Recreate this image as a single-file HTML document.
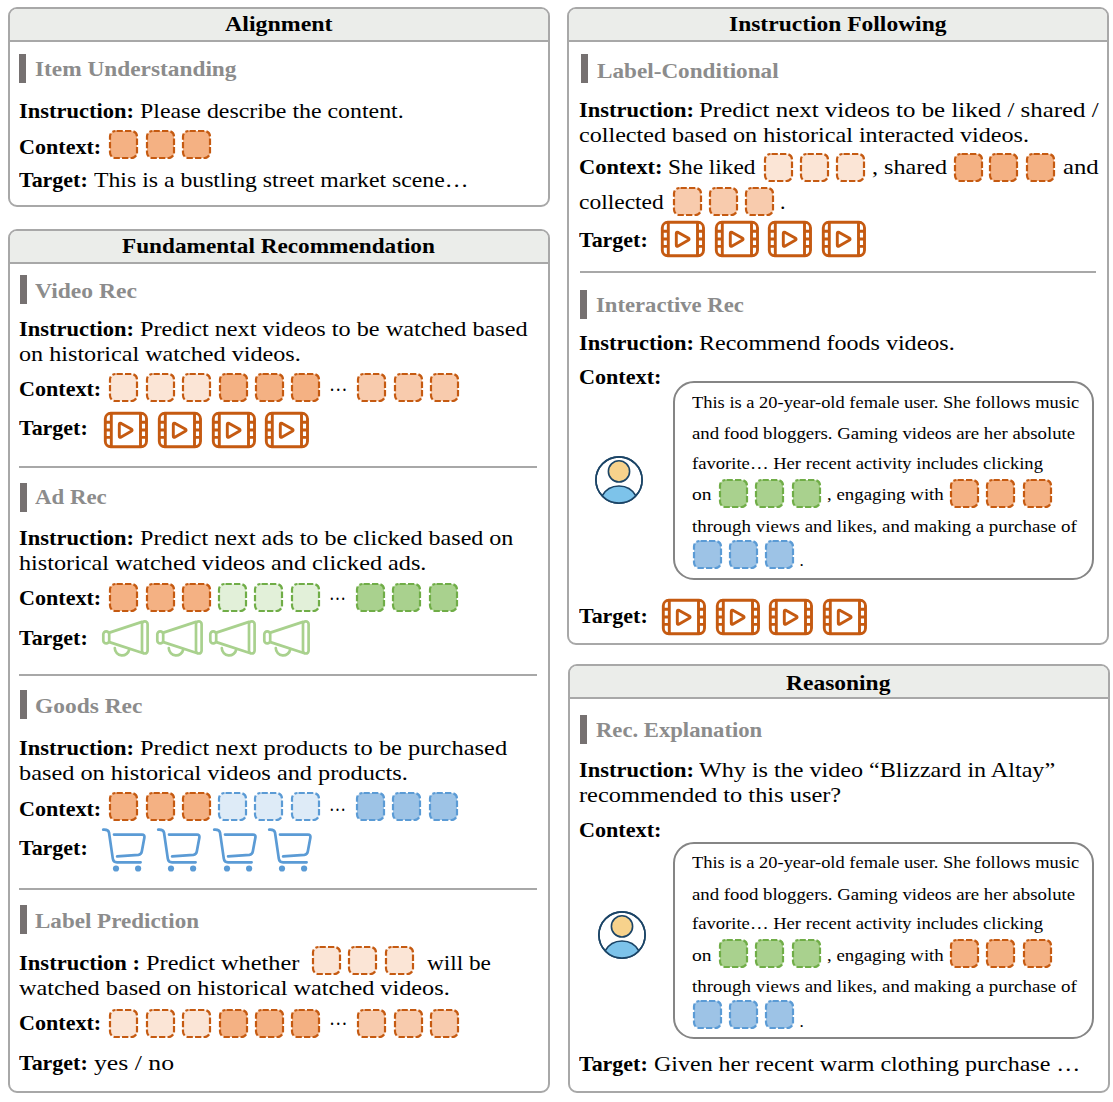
<!DOCTYPE html>
<html><head><meta charset="utf-8"><style>
html,body{margin:0;padding:0;background:#fff;}
body{width:1113px;height:1102px;position:relative;overflow:hidden;font-family:'Liberation Serif', serif;}
.t{position:absolute;white-space:pre;line-height:1;transform-origin:0 0;color:#000;}
.s{position:absolute;overflow:visible;}
.p{position:absolute;box-sizing:border-box;border:2px solid #a8a8a8;border-radius:9px;background:#fff;overflow:hidden;}
.ph{background:#ebedea;border-bottom:2px solid #a8a8a8;}
.bar{position:absolute;width:7px;height:29px;background:#767171;}
.sep{position:absolute;height:2px;background:#a8a8a8;}
.ib{position:absolute;box-sizing:border-box;border:2px solid #858585;border-radius:21px;}
</style></head><body>
<div class="p" style="left:8px;top:7px;width:542px;height:200px"><div class="ph" style="height:31px"></div></div>
<div class="p" style="left:8px;top:229px;width:542px;height:864px"><div class="ph" style="height:31px"></div></div>
<div class="p" style="left:567px;top:7px;width:542px;height:638px"><div class="ph" style="height:31px"></div></div>
<div class="p" style="left:568px;top:664px;width:542px;height:429px"><div class="ph" style="height:31px"></div></div>
<div class="bar" style="left:19px;top:54px"></div>
<svg class="s" style="left:109.1px;top:130.2px" width="29" height="29" viewBox="0 0 29 29"><rect x="1" y="1" width="27" height="27" rx="5.5" fill="#f4b183" stroke="#c55a11" stroke-width="2.2" stroke-dasharray="6.3 2.2" stroke-dashoffset="7.5"/></svg>
<svg class="s" style="left:145.5px;top:130.2px" width="29" height="29" viewBox="0 0 29 29"><rect x="1" y="1" width="27" height="27" rx="5.5" fill="#f4b183" stroke="#c55a11" stroke-width="2.2" stroke-dasharray="6.3 2.2" stroke-dashoffset="7.5"/></svg>
<svg class="s" style="left:182px;top:130.2px" width="29" height="29" viewBox="0 0 29 29"><rect x="1" y="1" width="27" height="27" rx="5.5" fill="#f4b183" stroke="#c55a11" stroke-width="2.2" stroke-dasharray="6.3 2.2" stroke-dashoffset="7.5"/></svg>
<div class="bar" style="left:20px;top:275px"></div>
<svg class="s" style="left:109.1px;top:372.5px" width="29" height="29" viewBox="0 0 29 29"><rect x="1" y="1" width="27" height="27" rx="5.5" fill="#fbe5d6" stroke="#c55a11" stroke-width="2.2" stroke-dasharray="6.3 2.2" stroke-dashoffset="7.5"/></svg>
<svg class="s" style="left:145.5px;top:372.5px" width="29" height="29" viewBox="0 0 29 29"><rect x="1" y="1" width="27" height="27" rx="5.5" fill="#fbe5d6" stroke="#c55a11" stroke-width="2.2" stroke-dasharray="6.3 2.2" stroke-dashoffset="7.5"/></svg>
<svg class="s" style="left:182px;top:372.5px" width="29" height="29" viewBox="0 0 29 29"><rect x="1" y="1" width="27" height="27" rx="5.5" fill="#fbe5d6" stroke="#c55a11" stroke-width="2.2" stroke-dasharray="6.3 2.2" stroke-dashoffset="7.5"/></svg>
<svg class="s" style="left:218.6px;top:372.5px" width="29" height="29" viewBox="0 0 29 29"><rect x="1" y="1" width="27" height="27" rx="5.5" fill="#f4b183" stroke="#c55a11" stroke-width="2.2" stroke-dasharray="6.3 2.2" stroke-dashoffset="7.5"/></svg>
<svg class="s" style="left:255px;top:372.5px" width="29" height="29" viewBox="0 0 29 29"><rect x="1" y="1" width="27" height="27" rx="5.5" fill="#f4b183" stroke="#c55a11" stroke-width="2.2" stroke-dasharray="6.3 2.2" stroke-dashoffset="7.5"/></svg>
<svg class="s" style="left:291.3px;top:372.5px" width="29" height="29" viewBox="0 0 29 29"><rect x="1" y="1" width="27" height="27" rx="5.5" fill="#f4b183" stroke="#c55a11" stroke-width="2.2" stroke-dasharray="6.3 2.2" stroke-dashoffset="7.5"/></svg>
<svg class="s" style="left:357.2px;top:372.5px" width="29" height="29" viewBox="0 0 29 29"><rect x="1" y="1" width="27" height="27" rx="5.5" fill="#f8cbad" stroke="#c55a11" stroke-width="2.2" stroke-dasharray="6.3 2.2" stroke-dashoffset="7.5"/></svg>
<svg class="s" style="left:393.5px;top:372.5px" width="29" height="29" viewBox="0 0 29 29"><rect x="1" y="1" width="27" height="27" rx="5.5" fill="#f8cbad" stroke="#c55a11" stroke-width="2.2" stroke-dasharray="6.3 2.2" stroke-dashoffset="7.5"/></svg>
<svg class="s" style="left:429.5px;top:372.5px" width="29" height="29" viewBox="0 0 29 29"><rect x="1" y="1" width="27" height="27" rx="5.5" fill="#f8cbad" stroke="#c55a11" stroke-width="2.2" stroke-dasharray="6.3 2.2" stroke-dashoffset="7.5"/></svg>
<svg class="s" style="left:104.2px;top:411.7px" width="44" height="37" viewBox="0 0 44 37"><g fill="none" stroke="#c55a11" stroke-width="2.9" stroke-linejoin="round"><rect x="1.3" y="1.3" width="41.2" height="33.5" rx="5.5"/><path d="M7.3 1.3V34.8M36.5 1.3V34.8M1.3 10.3H7.3M1.3 18H7.3M1.3 25.4H7.3M36.5 10.3H42.5M36.5 18H42.5M36.5 25.4H42.5"/><path d="M15.3 12.6Q15.3 10.4 17.2 11.4L27.2 17.1Q29 18.2 27.2 19.3L17.2 25Q15.3 26.1 15.3 23.9Z"/></g></svg>
<svg class="s" style="left:158px;top:411.7px" width="44" height="37" viewBox="0 0 44 37"><g fill="none" stroke="#c55a11" stroke-width="2.9" stroke-linejoin="round"><rect x="1.3" y="1.3" width="41.2" height="33.5" rx="5.5"/><path d="M7.3 1.3V34.8M36.5 1.3V34.8M1.3 10.3H7.3M1.3 18H7.3M1.3 25.4H7.3M36.5 10.3H42.5M36.5 18H42.5M36.5 25.4H42.5"/><path d="M15.3 12.6Q15.3 10.4 17.2 11.4L27.2 17.1Q29 18.2 27.2 19.3L17.2 25Q15.3 26.1 15.3 23.9Z"/></g></svg>
<svg class="s" style="left:211.7px;top:411.7px" width="44" height="37" viewBox="0 0 44 37"><g fill="none" stroke="#c55a11" stroke-width="2.9" stroke-linejoin="round"><rect x="1.3" y="1.3" width="41.2" height="33.5" rx="5.5"/><path d="M7.3 1.3V34.8M36.5 1.3V34.8M1.3 10.3H7.3M1.3 18H7.3M1.3 25.4H7.3M36.5 10.3H42.5M36.5 18H42.5M36.5 25.4H42.5"/><path d="M15.3 12.6Q15.3 10.4 17.2 11.4L27.2 17.1Q29 18.2 27.2 19.3L17.2 25Q15.3 26.1 15.3 23.9Z"/></g></svg>
<svg class="s" style="left:265.4px;top:411.7px" width="44" height="37" viewBox="0 0 44 37"><g fill="none" stroke="#c55a11" stroke-width="2.9" stroke-linejoin="round"><rect x="1.3" y="1.3" width="41.2" height="33.5" rx="5.5"/><path d="M7.3 1.3V34.8M36.5 1.3V34.8M1.3 10.3H7.3M1.3 18H7.3M1.3 25.4H7.3M36.5 10.3H42.5M36.5 18H42.5M36.5 25.4H42.5"/><path d="M15.3 12.6Q15.3 10.4 17.2 11.4L27.2 17.1Q29 18.2 27.2 19.3L17.2 25Q15.3 26.1 15.3 23.9Z"/></g></svg>
<div class="sep" style="left:18.6px;top:466px;width:518.4px"></div>
<div class="bar" style="left:20px;top:482.7px"></div>
<svg class="s" style="left:109.1px;top:583.1px" width="29" height="29" viewBox="0 0 29 29"><rect x="1" y="1" width="27" height="27" rx="5.5" fill="#f4b183" stroke="#c55a11" stroke-width="2.2" stroke-dasharray="6.3 2.2" stroke-dashoffset="7.5"/></svg>
<svg class="s" style="left:145.5px;top:583.1px" width="29" height="29" viewBox="0 0 29 29"><rect x="1" y="1" width="27" height="27" rx="5.5" fill="#f4b183" stroke="#c55a11" stroke-width="2.2" stroke-dasharray="6.3 2.2" stroke-dashoffset="7.5"/></svg>
<svg class="s" style="left:182px;top:583.1px" width="29" height="29" viewBox="0 0 29 29"><rect x="1" y="1" width="27" height="27" rx="5.5" fill="#f4b183" stroke="#c55a11" stroke-width="2.2" stroke-dasharray="6.3 2.2" stroke-dashoffset="7.5"/></svg>
<svg class="s" style="left:218.2px;top:583.1px" width="29" height="29" viewBox="0 0 29 29"><rect x="1" y="1" width="27" height="27" rx="5.5" fill="#e2f0d9" stroke="#70ad47" stroke-width="2.2" stroke-dasharray="6.3 2.2" stroke-dashoffset="7.5"/></svg>
<svg class="s" style="left:254.4px;top:583.1px" width="29" height="29" viewBox="0 0 29 29"><rect x="1" y="1" width="27" height="27" rx="5.5" fill="#e2f0d9" stroke="#70ad47" stroke-width="2.2" stroke-dasharray="6.3 2.2" stroke-dashoffset="7.5"/></svg>
<svg class="s" style="left:290.6px;top:583.1px" width="29" height="29" viewBox="0 0 29 29"><rect x="1" y="1" width="27" height="27" rx="5.5" fill="#e2f0d9" stroke="#70ad47" stroke-width="2.2" stroke-dasharray="6.3 2.2" stroke-dashoffset="7.5"/></svg>
<svg class="s" style="left:356px;top:583.1px" width="29" height="29" viewBox="0 0 29 29"><rect x="1" y="1" width="27" height="27" rx="5.5" fill="#a9d18e" stroke="#70ad47" stroke-width="2.2" stroke-dasharray="6.3 2.2" stroke-dashoffset="7.5"/></svg>
<svg class="s" style="left:392.2px;top:583.1px" width="29" height="29" viewBox="0 0 29 29"><rect x="1" y="1" width="27" height="27" rx="5.5" fill="#a9d18e" stroke="#70ad47" stroke-width="2.2" stroke-dasharray="6.3 2.2" stroke-dashoffset="7.5"/></svg>
<svg class="s" style="left:429px;top:583.1px" width="29" height="29" viewBox="0 0 29 29"><rect x="1" y="1" width="27" height="27" rx="5.5" fill="#a9d18e" stroke="#70ad47" stroke-width="2.2" stroke-dasharray="6.3 2.2" stroke-dashoffset="7.5"/></svg>
<svg class="s" style="left:98px;top:615px" width="54" height="47" viewBox="0 0 54 47"><g fill="none" stroke="#a9d18e" stroke-width="2.7" stroke-linecap="round" stroke-linejoin="round"><rect x="5.3" y="16.3" width="5.9" height="12" rx="2.9"/><rect x="44" y="6.4" width="5.6" height="32.1" rx="2.8"/><path d="M11.4 17.6L44 6.9M11.4 27.1L44 37.8"/><path d="M16.8 33.2A7.3 7.3 0 0 0 31.3 34.3"/></g></svg>
<svg class="s" style="left:151.6px;top:615px" width="54" height="47" viewBox="0 0 54 47"><g fill="none" stroke="#a9d18e" stroke-width="2.7" stroke-linecap="round" stroke-linejoin="round"><rect x="5.3" y="16.3" width="5.9" height="12" rx="2.9"/><rect x="44" y="6.4" width="5.6" height="32.1" rx="2.8"/><path d="M11.4 17.6L44 6.9M11.4 27.1L44 37.8"/><path d="M16.8 33.2A7.3 7.3 0 0 0 31.3 34.3"/></g></svg>
<svg class="s" style="left:205.1px;top:615px" width="54" height="47" viewBox="0 0 54 47"><g fill="none" stroke="#a9d18e" stroke-width="2.7" stroke-linecap="round" stroke-linejoin="round"><rect x="5.3" y="16.3" width="5.9" height="12" rx="2.9"/><rect x="44" y="6.4" width="5.6" height="32.1" rx="2.8"/><path d="M11.4 17.6L44 6.9M11.4 27.1L44 37.8"/><path d="M16.8 33.2A7.3 7.3 0 0 0 31.3 34.3"/></g></svg>
<svg class="s" style="left:258.7px;top:615px" width="54" height="47" viewBox="0 0 54 47"><g fill="none" stroke="#a9d18e" stroke-width="2.7" stroke-linecap="round" stroke-linejoin="round"><rect x="5.3" y="16.3" width="5.9" height="12" rx="2.9"/><rect x="44" y="6.4" width="5.6" height="32.1" rx="2.8"/><path d="M11.4 17.6L44 6.9M11.4 27.1L44 37.8"/><path d="M16.8 33.2A7.3 7.3 0 0 0 31.3 34.3"/></g></svg>
<div class="sep" style="left:18.6px;top:674px;width:518.4px"></div>
<div class="bar" style="left:20px;top:690px"></div>
<svg class="s" style="left:109.1px;top:792.3px" width="29" height="29" viewBox="0 0 29 29"><rect x="1" y="1" width="27" height="27" rx="5.5" fill="#f4b183" stroke="#c55a11" stroke-width="2.2" stroke-dasharray="6.3 2.2" stroke-dashoffset="7.5"/></svg>
<svg class="s" style="left:145.5px;top:792.3px" width="29" height="29" viewBox="0 0 29 29"><rect x="1" y="1" width="27" height="27" rx="5.5" fill="#f4b183" stroke="#c55a11" stroke-width="2.2" stroke-dasharray="6.3 2.2" stroke-dashoffset="7.5"/></svg>
<svg class="s" style="left:182px;top:792.3px" width="29" height="29" viewBox="0 0 29 29"><rect x="1" y="1" width="27" height="27" rx="5.5" fill="#f4b183" stroke="#c55a11" stroke-width="2.2" stroke-dasharray="6.3 2.2" stroke-dashoffset="7.5"/></svg>
<svg class="s" style="left:218.2px;top:792.3px" width="29" height="29" viewBox="0 0 29 29"><rect x="1" y="1" width="27" height="27" rx="5.5" fill="#deebf7" stroke="#5b9bd5" stroke-width="2.2" stroke-dasharray="6.3 2.2" stroke-dashoffset="7.5"/></svg>
<svg class="s" style="left:254.4px;top:792.3px" width="29" height="29" viewBox="0 0 29 29"><rect x="1" y="1" width="27" height="27" rx="5.5" fill="#deebf7" stroke="#5b9bd5" stroke-width="2.2" stroke-dasharray="6.3 2.2" stroke-dashoffset="7.5"/></svg>
<svg class="s" style="left:290.6px;top:792.3px" width="29" height="29" viewBox="0 0 29 29"><rect x="1" y="1" width="27" height="27" rx="5.5" fill="#deebf7" stroke="#5b9bd5" stroke-width="2.2" stroke-dasharray="6.3 2.2" stroke-dashoffset="7.5"/></svg>
<svg class="s" style="left:356px;top:792.3px" width="29" height="29" viewBox="0 0 29 29"><rect x="1" y="1" width="27" height="27" rx="5.5" fill="#9dc3e6" stroke="#5b9bd5" stroke-width="2.2" stroke-dasharray="6.3 2.2" stroke-dashoffset="7.5"/></svg>
<svg class="s" style="left:392.2px;top:792.3px" width="29" height="29" viewBox="0 0 29 29"><rect x="1" y="1" width="27" height="27" rx="5.5" fill="#9dc3e6" stroke="#5b9bd5" stroke-width="2.2" stroke-dasharray="6.3 2.2" stroke-dashoffset="7.5"/></svg>
<svg class="s" style="left:429px;top:792.3px" width="29" height="29" viewBox="0 0 29 29"><rect x="1" y="1" width="27" height="27" rx="5.5" fill="#9dc3e6" stroke="#5b9bd5" stroke-width="2.2" stroke-dasharray="6.3 2.2" stroke-dashoffset="7.5"/></svg>
<svg class="s" style="left:95px;top:820px" width="52" height="54" viewBox="0 0 52 54"><g fill="none" stroke="#5b9bd5" stroke-width="2.7" stroke-linecap="round" stroke-linejoin="round"><path d="M8.2 9.7Q13.3 9.3 14 12.5L17.8 38.6Q18.3 42.3 22 42.3H45.6"/><path d="M19 14.6H47Q49.9 14.6 49.4 17.4L46.8 31.6Q46.3 34.5 43.4 34.8L22.1 36.3"/></g><circle cx="21" cy="48.5" r="3.1" fill="#5b9bd5"/><circle cx="43.1" cy="48.5" r="3.1" fill="#5b9bd5"/></svg>
<svg class="s" style="left:150.4px;top:820px" width="52" height="54" viewBox="0 0 52 54"><g fill="none" stroke="#5b9bd5" stroke-width="2.7" stroke-linecap="round" stroke-linejoin="round"><path d="M8.2 9.7Q13.3 9.3 14 12.5L17.8 38.6Q18.3 42.3 22 42.3H45.6"/><path d="M19 14.6H47Q49.9 14.6 49.4 17.4L46.8 31.6Q46.3 34.5 43.4 34.8L22.1 36.3"/></g><circle cx="21" cy="48.5" r="3.1" fill="#5b9bd5"/><circle cx="43.1" cy="48.5" r="3.1" fill="#5b9bd5"/></svg>
<svg class="s" style="left:205.8px;top:820px" width="52" height="54" viewBox="0 0 52 54"><g fill="none" stroke="#5b9bd5" stroke-width="2.7" stroke-linecap="round" stroke-linejoin="round"><path d="M8.2 9.7Q13.3 9.3 14 12.5L17.8 38.6Q18.3 42.3 22 42.3H45.6"/><path d="M19 14.6H47Q49.9 14.6 49.4 17.4L46.8 31.6Q46.3 34.5 43.4 34.8L22.1 36.3"/></g><circle cx="21" cy="48.5" r="3.1" fill="#5b9bd5"/><circle cx="43.1" cy="48.5" r="3.1" fill="#5b9bd5"/></svg>
<svg class="s" style="left:261.2px;top:820px" width="52" height="54" viewBox="0 0 52 54"><g fill="none" stroke="#5b9bd5" stroke-width="2.7" stroke-linecap="round" stroke-linejoin="round"><path d="M8.2 9.7Q13.3 9.3 14 12.5L17.8 38.6Q18.3 42.3 22 42.3H45.6"/><path d="M19 14.6H47Q49.9 14.6 49.4 17.4L46.8 31.6Q46.3 34.5 43.4 34.8L22.1 36.3"/></g><circle cx="21" cy="48.5" r="3.1" fill="#5b9bd5"/><circle cx="43.1" cy="48.5" r="3.1" fill="#5b9bd5"/></svg>
<div class="sep" style="left:18.6px;top:888px;width:518.4px"></div>
<div class="bar" style="left:20px;top:905px"></div>
<svg class="s" style="left:312px;top:946.4px" width="29" height="29" viewBox="0 0 29 29"><rect x="1" y="1" width="27" height="27" rx="5.5" fill="#fbe5d6" stroke="#c55a11" stroke-width="2.2" stroke-dasharray="6.3 2.2" stroke-dashoffset="7.5"/></svg>
<svg class="s" style="left:348px;top:946.4px" width="29" height="29" viewBox="0 0 29 29"><rect x="1" y="1" width="27" height="27" rx="5.5" fill="#fbe5d6" stroke="#c55a11" stroke-width="2.2" stroke-dasharray="6.3 2.2" stroke-dashoffset="7.5"/></svg>
<svg class="s" style="left:385px;top:946.4px" width="29" height="29" viewBox="0 0 29 29"><rect x="1" y="1" width="27" height="27" rx="5.5" fill="#fbe5d6" stroke="#c55a11" stroke-width="2.2" stroke-dasharray="6.3 2.2" stroke-dashoffset="7.5"/></svg>
<svg class="s" style="left:109.1px;top:1008.5px" width="29" height="29" viewBox="0 0 29 29"><rect x="1" y="1" width="27" height="27" rx="5.5" fill="#fbe5d6" stroke="#c55a11" stroke-width="2.2" stroke-dasharray="6.3 2.2" stroke-dashoffset="7.5"/></svg>
<svg class="s" style="left:145.5px;top:1008.5px" width="29" height="29" viewBox="0 0 29 29"><rect x="1" y="1" width="27" height="27" rx="5.5" fill="#fbe5d6" stroke="#c55a11" stroke-width="2.2" stroke-dasharray="6.3 2.2" stroke-dashoffset="7.5"/></svg>
<svg class="s" style="left:182px;top:1008.5px" width="29" height="29" viewBox="0 0 29 29"><rect x="1" y="1" width="27" height="27" rx="5.5" fill="#fbe5d6" stroke="#c55a11" stroke-width="2.2" stroke-dasharray="6.3 2.2" stroke-dashoffset="7.5"/></svg>
<svg class="s" style="left:218.6px;top:1008.5px" width="29" height="29" viewBox="0 0 29 29"><rect x="1" y="1" width="27" height="27" rx="5.5" fill="#f4b183" stroke="#c55a11" stroke-width="2.2" stroke-dasharray="6.3 2.2" stroke-dashoffset="7.5"/></svg>
<svg class="s" style="left:255px;top:1008.5px" width="29" height="29" viewBox="0 0 29 29"><rect x="1" y="1" width="27" height="27" rx="5.5" fill="#f4b183" stroke="#c55a11" stroke-width="2.2" stroke-dasharray="6.3 2.2" stroke-dashoffset="7.5"/></svg>
<svg class="s" style="left:291.3px;top:1008.5px" width="29" height="29" viewBox="0 0 29 29"><rect x="1" y="1" width="27" height="27" rx="5.5" fill="#f4b183" stroke="#c55a11" stroke-width="2.2" stroke-dasharray="6.3 2.2" stroke-dashoffset="7.5"/></svg>
<svg class="s" style="left:357.2px;top:1008.5px" width="29" height="29" viewBox="0 0 29 29"><rect x="1" y="1" width="27" height="27" rx="5.5" fill="#f8cbad" stroke="#c55a11" stroke-width="2.2" stroke-dasharray="6.3 2.2" stroke-dashoffset="7.5"/></svg>
<svg class="s" style="left:393.5px;top:1008.5px" width="29" height="29" viewBox="0 0 29 29"><rect x="1" y="1" width="27" height="27" rx="5.5" fill="#f8cbad" stroke="#c55a11" stroke-width="2.2" stroke-dasharray="6.3 2.2" stroke-dashoffset="7.5"/></svg>
<svg class="s" style="left:429.5px;top:1008.5px" width="29" height="29" viewBox="0 0 29 29"><rect x="1" y="1" width="27" height="27" rx="5.5" fill="#f8cbad" stroke="#c55a11" stroke-width="2.2" stroke-dasharray="6.3 2.2" stroke-dashoffset="7.5"/></svg>
<div class="bar" style="left:581px;top:54px"></div>
<svg class="s" style="left:763.7px;top:153px" width="29" height="29" viewBox="0 0 29 29"><rect x="1" y="1" width="27" height="27" rx="5.5" fill="#fbe5d6" stroke="#c55a11" stroke-width="2.2" stroke-dasharray="6.3 2.2" stroke-dashoffset="7.5"/></svg>
<svg class="s" style="left:799.5px;top:153px" width="29" height="29" viewBox="0 0 29 29"><rect x="1" y="1" width="27" height="27" rx="5.5" fill="#fbe5d6" stroke="#c55a11" stroke-width="2.2" stroke-dasharray="6.3 2.2" stroke-dashoffset="7.5"/></svg>
<svg class="s" style="left:835.7px;top:153px" width="29" height="29" viewBox="0 0 29 29"><rect x="1" y="1" width="27" height="27" rx="5.5" fill="#fbe5d6" stroke="#c55a11" stroke-width="2.2" stroke-dasharray="6.3 2.2" stroke-dashoffset="7.5"/></svg>
<svg class="s" style="left:953.5px;top:153px" width="29" height="29" viewBox="0 0 29 29"><rect x="1" y="1" width="27" height="27" rx="5.5" fill="#f4b183" stroke="#c55a11" stroke-width="2.2" stroke-dasharray="6.3 2.2" stroke-dashoffset="7.5"/></svg>
<svg class="s" style="left:988.8px;top:153px" width="29" height="29" viewBox="0 0 29 29"><rect x="1" y="1" width="27" height="27" rx="5.5" fill="#f4b183" stroke="#c55a11" stroke-width="2.2" stroke-dasharray="6.3 2.2" stroke-dashoffset="7.5"/></svg>
<svg class="s" style="left:1025.5px;top:153px" width="29" height="29" viewBox="0 0 29 29"><rect x="1" y="1" width="27" height="27" rx="5.5" fill="#f4b183" stroke="#c55a11" stroke-width="2.2" stroke-dasharray="6.3 2.2" stroke-dashoffset="7.5"/></svg>
<svg class="s" style="left:673.3px;top:187px" width="29" height="29" viewBox="0 0 29 29"><rect x="1" y="1" width="27" height="27" rx="5.5" fill="#f8cbad" stroke="#c55a11" stroke-width="2.2" stroke-dasharray="6.3 2.2" stroke-dashoffset="7.5"/></svg>
<svg class="s" style="left:709px;top:187px" width="29" height="29" viewBox="0 0 29 29"><rect x="1" y="1" width="27" height="27" rx="5.5" fill="#f8cbad" stroke="#c55a11" stroke-width="2.2" stroke-dasharray="6.3 2.2" stroke-dashoffset="7.5"/></svg>
<svg class="s" style="left:745.3px;top:187px" width="29" height="29" viewBox="0 0 29 29"><rect x="1" y="1" width="27" height="27" rx="5.5" fill="#f8cbad" stroke="#c55a11" stroke-width="2.2" stroke-dasharray="6.3 2.2" stroke-dashoffset="7.5"/></svg>
<svg class="s" style="left:660.9px;top:221.2px" width="44" height="37" viewBox="0 0 44 37"><g fill="none" stroke="#c55a11" stroke-width="2.9" stroke-linejoin="round"><rect x="1.3" y="1.3" width="41.2" height="33.5" rx="5.5"/><path d="M7.3 1.3V34.8M36.5 1.3V34.8M1.3 10.3H7.3M1.3 18H7.3M1.3 25.4H7.3M36.5 10.3H42.5M36.5 18H42.5M36.5 25.4H42.5"/><path d="M15.3 12.6Q15.3 10.4 17.2 11.4L27.2 17.1Q29 18.2 27.2 19.3L17.2 25Q15.3 26.1 15.3 23.9Z"/></g></svg>
<svg class="s" style="left:714.5px;top:221.2px" width="44" height="37" viewBox="0 0 44 37"><g fill="none" stroke="#c55a11" stroke-width="2.9" stroke-linejoin="round"><rect x="1.3" y="1.3" width="41.2" height="33.5" rx="5.5"/><path d="M7.3 1.3V34.8M36.5 1.3V34.8M1.3 10.3H7.3M1.3 18H7.3M1.3 25.4H7.3M36.5 10.3H42.5M36.5 18H42.5M36.5 25.4H42.5"/><path d="M15.3 12.6Q15.3 10.4 17.2 11.4L27.2 17.1Q29 18.2 27.2 19.3L17.2 25Q15.3 26.1 15.3 23.9Z"/></g></svg>
<svg class="s" style="left:768.2px;top:221.2px" width="44" height="37" viewBox="0 0 44 37"><g fill="none" stroke="#c55a11" stroke-width="2.9" stroke-linejoin="round"><rect x="1.3" y="1.3" width="41.2" height="33.5" rx="5.5"/><path d="M7.3 1.3V34.8M36.5 1.3V34.8M1.3 10.3H7.3M1.3 18H7.3M1.3 25.4H7.3M36.5 10.3H42.5M36.5 18H42.5M36.5 25.4H42.5"/><path d="M15.3 12.6Q15.3 10.4 17.2 11.4L27.2 17.1Q29 18.2 27.2 19.3L17.2 25Q15.3 26.1 15.3 23.9Z"/></g></svg>
<svg class="s" style="left:821.8px;top:221.2px" width="44" height="37" viewBox="0 0 44 37"><g fill="none" stroke="#c55a11" stroke-width="2.9" stroke-linejoin="round"><rect x="1.3" y="1.3" width="41.2" height="33.5" rx="5.5"/><path d="M7.3 1.3V34.8M36.5 1.3V34.8M1.3 10.3H7.3M1.3 18H7.3M1.3 25.4H7.3M36.5 10.3H42.5M36.5 18H42.5M36.5 25.4H42.5"/><path d="M15.3 12.6Q15.3 10.4 17.2 11.4L27.2 17.1Q29 18.2 27.2 19.3L17.2 25Q15.3 26.1 15.3 23.9Z"/></g></svg>
<div class="sep" style="left:579.9px;top:271.3px;width:515.6999999999999px"></div>
<div class="bar" style="left:580px;top:289.9px"></div>
<div class="ib" style="left:673.3px;top:381px;width:420.5px;height:199px"></div>
<svg class="s" style="left:719.1px;top:478.5px" width="29" height="29" viewBox="0 0 29 29"><rect x="1" y="1" width="27" height="27" rx="5.5" fill="#a9d18e" stroke="#70ad47" stroke-width="2.2" stroke-dasharray="6.3 2.2" stroke-dashoffset="7.5"/></svg>
<svg class="s" style="left:755.3px;top:478.5px" width="29" height="29" viewBox="0 0 29 29"><rect x="1" y="1" width="27" height="27" rx="5.5" fill="#a9d18e" stroke="#70ad47" stroke-width="2.2" stroke-dasharray="6.3 2.2" stroke-dashoffset="7.5"/></svg>
<svg class="s" style="left:791.6px;top:478.5px" width="29" height="29" viewBox="0 0 29 29"><rect x="1" y="1" width="27" height="27" rx="5.5" fill="#a9d18e" stroke="#70ad47" stroke-width="2.2" stroke-dasharray="6.3 2.2" stroke-dashoffset="7.5"/></svg>
<svg class="s" style="left:950px;top:478.5px" width="29" height="29" viewBox="0 0 29 29"><rect x="1" y="1" width="27" height="27" rx="5.5" fill="#f4b183" stroke="#c55a11" stroke-width="2.2" stroke-dasharray="6.3 2.2" stroke-dashoffset="7.5"/></svg>
<svg class="s" style="left:986.3px;top:478.5px" width="29" height="29" viewBox="0 0 29 29"><rect x="1" y="1" width="27" height="27" rx="5.5" fill="#f4b183" stroke="#c55a11" stroke-width="2.2" stroke-dasharray="6.3 2.2" stroke-dashoffset="7.5"/></svg>
<svg class="s" style="left:1023px;top:478.5px" width="29" height="29" viewBox="0 0 29 29"><rect x="1" y="1" width="27" height="27" rx="5.5" fill="#f4b183" stroke="#c55a11" stroke-width="2.2" stroke-dasharray="6.3 2.2" stroke-dashoffset="7.5"/></svg>
<svg class="s" style="left:692.5px;top:539.5px" width="29" height="29" viewBox="0 0 29 29"><rect x="1" y="1" width="27" height="27" rx="5.5" fill="#9dc3e6" stroke="#5b9bd5" stroke-width="2.2" stroke-dasharray="6.3 2.2" stroke-dashoffset="7.5"/></svg>
<svg class="s" style="left:729px;top:539.5px" width="29" height="29" viewBox="0 0 29 29"><rect x="1" y="1" width="27" height="27" rx="5.5" fill="#9dc3e6" stroke="#5b9bd5" stroke-width="2.2" stroke-dasharray="6.3 2.2" stroke-dashoffset="7.5"/></svg>
<svg class="s" style="left:765.4px;top:539.5px" width="29" height="29" viewBox="0 0 29 29"><rect x="1" y="1" width="27" height="27" rx="5.5" fill="#9dc3e6" stroke="#5b9bd5" stroke-width="2.2" stroke-dasharray="6.3 2.2" stroke-dashoffset="7.5"/></svg>
<svg class="s" style="left:594.4px;top:455px" width="50" height="50" viewBox="0 0 50 50"><defs><clipPath id="c619480"><circle cx="25" cy="25" r="23"/></clipPath></defs><circle cx="25" cy="25" r="23.1" fill="#fff" stroke="#1b4466" stroke-width="1.6"/><g clip-path="url(#c619480)"><path d="M8 41A19.5 19.5 0 0 1 42 41L42 50H8Z" fill="#7dc3ea" stroke="#1b4466" stroke-width="1.6"/></g><circle cx="25" cy="25" r="23.1" fill="none" stroke="#1b4466" stroke-width="1.6"/><circle cx="25" cy="16.4" r="10.6" fill="#f7d28c" stroke="#1b4466" stroke-width="1.6"/></svg>
<svg class="s" style="left:661.9px;top:599px" width="44" height="37" viewBox="0 0 44 37"><g fill="none" stroke="#c55a11" stroke-width="2.9" stroke-linejoin="round"><rect x="1.3" y="1.3" width="41.2" height="33.5" rx="5.5"/><path d="M7.3 1.3V34.8M36.5 1.3V34.8M1.3 10.3H7.3M1.3 18H7.3M1.3 25.4H7.3M36.5 10.3H42.5M36.5 18H42.5M36.5 25.4H42.5"/><path d="M15.3 12.6Q15.3 10.4 17.2 11.4L27.2 17.1Q29 18.2 27.2 19.3L17.2 25Q15.3 26.1 15.3 23.9Z"/></g></svg>
<svg class="s" style="left:715.5px;top:599px" width="44" height="37" viewBox="0 0 44 37"><g fill="none" stroke="#c55a11" stroke-width="2.9" stroke-linejoin="round"><rect x="1.3" y="1.3" width="41.2" height="33.5" rx="5.5"/><path d="M7.3 1.3V34.8M36.5 1.3V34.8M1.3 10.3H7.3M1.3 18H7.3M1.3 25.4H7.3M36.5 10.3H42.5M36.5 18H42.5M36.5 25.4H42.5"/><path d="M15.3 12.6Q15.3 10.4 17.2 11.4L27.2 17.1Q29 18.2 27.2 19.3L17.2 25Q15.3 26.1 15.3 23.9Z"/></g></svg>
<svg class="s" style="left:769.2px;top:599px" width="44" height="37" viewBox="0 0 44 37"><g fill="none" stroke="#c55a11" stroke-width="2.9" stroke-linejoin="round"><rect x="1.3" y="1.3" width="41.2" height="33.5" rx="5.5"/><path d="M7.3 1.3V34.8M36.5 1.3V34.8M1.3 10.3H7.3M1.3 18H7.3M1.3 25.4H7.3M36.5 10.3H42.5M36.5 18H42.5M36.5 25.4H42.5"/><path d="M15.3 12.6Q15.3 10.4 17.2 11.4L27.2 17.1Q29 18.2 27.2 19.3L17.2 25Q15.3 26.1 15.3 23.9Z"/></g></svg>
<svg class="s" style="left:822.8px;top:599px" width="44" height="37" viewBox="0 0 44 37"><g fill="none" stroke="#c55a11" stroke-width="2.9" stroke-linejoin="round"><rect x="1.3" y="1.3" width="41.2" height="33.5" rx="5.5"/><path d="M7.3 1.3V34.8M36.5 1.3V34.8M1.3 10.3H7.3M1.3 18H7.3M1.3 25.4H7.3M36.5 10.3H42.5M36.5 18H42.5M36.5 25.4H42.5"/><path d="M15.3 12.6Q15.3 10.4 17.2 11.4L27.2 17.1Q29 18.2 27.2 19.3L17.2 25Q15.3 26.1 15.3 23.9Z"/></g></svg>
<div class="bar" style="left:580px;top:714.6px"></div>
<div class="ib" style="left:673.3px;top:842px;width:420.5px;height:196.5px"></div>
<svg class="s" style="left:719.1px;top:939.2px" width="29" height="29" viewBox="0 0 29 29"><rect x="1" y="1" width="27" height="27" rx="5.5" fill="#a9d18e" stroke="#70ad47" stroke-width="2.2" stroke-dasharray="6.3 2.2" stroke-dashoffset="7.5"/></svg>
<svg class="s" style="left:755.3px;top:939.2px" width="29" height="29" viewBox="0 0 29 29"><rect x="1" y="1" width="27" height="27" rx="5.5" fill="#a9d18e" stroke="#70ad47" stroke-width="2.2" stroke-dasharray="6.3 2.2" stroke-dashoffset="7.5"/></svg>
<svg class="s" style="left:791.6px;top:939.2px" width="29" height="29" viewBox="0 0 29 29"><rect x="1" y="1" width="27" height="27" rx="5.5" fill="#a9d18e" stroke="#70ad47" stroke-width="2.2" stroke-dasharray="6.3 2.2" stroke-dashoffset="7.5"/></svg>
<svg class="s" style="left:950px;top:939.2px" width="29" height="29" viewBox="0 0 29 29"><rect x="1" y="1" width="27" height="27" rx="5.5" fill="#f4b183" stroke="#c55a11" stroke-width="2.2" stroke-dasharray="6.3 2.2" stroke-dashoffset="7.5"/></svg>
<svg class="s" style="left:986.3px;top:939.2px" width="29" height="29" viewBox="0 0 29 29"><rect x="1" y="1" width="27" height="27" rx="5.5" fill="#f4b183" stroke="#c55a11" stroke-width="2.2" stroke-dasharray="6.3 2.2" stroke-dashoffset="7.5"/></svg>
<svg class="s" style="left:1023px;top:939.2px" width="29" height="29" viewBox="0 0 29 29"><rect x="1" y="1" width="27" height="27" rx="5.5" fill="#f4b183" stroke="#c55a11" stroke-width="2.2" stroke-dasharray="6.3 2.2" stroke-dashoffset="7.5"/></svg>
<svg class="s" style="left:692.5px;top:1000px" width="29" height="29" viewBox="0 0 29 29"><rect x="1" y="1" width="27" height="27" rx="5.5" fill="#9dc3e6" stroke="#5b9bd5" stroke-width="2.2" stroke-dasharray="6.3 2.2" stroke-dashoffset="7.5"/></svg>
<svg class="s" style="left:729px;top:1000px" width="29" height="29" viewBox="0 0 29 29"><rect x="1" y="1" width="27" height="27" rx="5.5" fill="#9dc3e6" stroke="#5b9bd5" stroke-width="2.2" stroke-dasharray="6.3 2.2" stroke-dashoffset="7.5"/></svg>
<svg class="s" style="left:765.4px;top:1000px" width="29" height="29" viewBox="0 0 29 29"><rect x="1" y="1" width="27" height="27" rx="5.5" fill="#9dc3e6" stroke="#5b9bd5" stroke-width="2.2" stroke-dasharray="6.3 2.2" stroke-dashoffset="7.5"/></svg>
<svg class="s" style="left:597px;top:910.3px" width="50" height="50" viewBox="0 0 50 50"><defs><clipPath id="c622935"><circle cx="25" cy="25" r="23"/></clipPath></defs><circle cx="25" cy="25" r="23.1" fill="#fff" stroke="#1b4466" stroke-width="1.6"/><g clip-path="url(#c622935)"><path d="M8 41A19.5 19.5 0 0 1 42 41L42 50H8Z" fill="#7dc3ea" stroke="#1b4466" stroke-width="1.6"/></g><circle cx="25" cy="25" r="23.1" fill="none" stroke="#1b4466" stroke-width="1.6"/><circle cx="25" cy="16.4" r="10.6" fill="#f7d28c" stroke="#1b4466" stroke-width="1.6"/></svg>
<div class="t" style="left:224.5px;top:13px;font-size:22px;font-weight:bold;transform:scaleX(1.0859);">Alignment</div>
<div class="t" style="left:122.3px;top:234.7px;font-size:22px;font-weight:bold;transform:scaleX(1.0557);">Fundamental Recommendation</div>
<div class="t" style="left:729px;top:12.8px;font-size:22px;font-weight:bold;transform:scaleX(1.0686);">Instruction Following</div>
<div class="t" style="left:786px;top:671.8px;font-size:22px;font-weight:bold;transform:scaleX(1.0675);">Reasoning</div>
<div class="t" style="left:35px;top:59px;font-size:21px;font-weight:bold;color:#8c8c8c;transform:scaleX(1.1106);">Item Understanding</div>
<div class="t" style="left:18.8px;top:100px;font-size:22px;font-weight:bold;transform:scaleX(1.0226);">Instruction:</div>
<div class="t" style="left:139.60000000000002px;top:100px;font-size:22px;transform:scaleX(1.0846);">Please describe the content.</div>
<div class="t" style="left:18.8px;top:135.5px;font-size:22px;font-weight:bold;transform:scaleX(1.0040);">Context:</div>
<div class="t" style="left:18.8px;top:169px;font-size:22px;font-weight:bold;transform:scaleX(0.9979);">Target:</div>
<div class="t" style="left:93.5px;top:169px;font-size:22px;transform:scaleX(1.0792);">This is a bustling street market scene…</div>
<div class="t" style="left:35px;top:281px;font-size:21px;font-weight:bold;color:#8c8c8c;transform:scaleX(1.1225);">Video Rec</div>
<div class="t" style="left:18.8px;top:317.7px;font-size:22px;font-weight:bold;transform:scaleX(1.0226);">Instruction:</div>
<div class="t" style="left:139.60000000000002px;top:317.7px;font-size:22px;transform:scaleX(1.1017);">Predict next videos to be watched based</div>
<div class="t" style="left:18.6px;top:342.8px;font-size:22px;transform:scaleX(1.0982);">on historical watched videos.</div>
<div class="t" style="left:18.8px;top:378px;font-size:22px;font-weight:bold;transform:scaleX(1.0040);">Context:</div>
<div class="t" style="left:328.5px;top:372.5px;font-size:22px;transform:scaleX(0.8409);">…</div>
<div class="t" style="left:18.8px;top:417px;font-size:22px;font-weight:bold;transform:scaleX(0.9979);">Target:</div>
<div class="t" style="left:35px;top:486.8px;font-size:21px;font-weight:bold;color:#8c8c8c;transform:scaleX(1.0879);">Ad Rec</div>
<div class="t" style="left:18.8px;top:526.6px;font-size:22px;font-weight:bold;transform:scaleX(1.0226);">Instruction:</div>
<div class="t" style="left:139.60000000000002px;top:526.6px;font-size:22px;transform:scaleX(1.0934);">Predict next ads to be clicked based on</div>
<div class="t" style="left:18.6px;top:551.7px;font-size:22px;transform:scaleX(1.1004);">historical watched videos and clicked ads.</div>
<div class="t" style="left:18.8px;top:587px;font-size:22px;font-weight:bold;transform:scaleX(1.0040);">Context:</div>
<div class="t" style="left:328.5px;top:581.5px;font-size:22px;transform:scaleX(0.7727);">…</div>
<div class="t" style="left:18.8px;top:626.5px;font-size:22px;font-weight:bold;transform:scaleX(0.9979);">Target:</div>
<div class="t" style="left:35px;top:695.8px;font-size:21px;font-weight:bold;color:#8c8c8c;transform:scaleX(1.1158);">Goods Rec</div>
<div class="t" style="left:18.8px;top:736.5px;font-size:22px;font-weight:bold;transform:scaleX(1.0226);">Instruction:</div>
<div class="t" style="left:139.60000000000002px;top:736.5px;font-size:22px;transform:scaleX(1.1107);">Predict next products to be purchased</div>
<div class="t" style="left:18.6px;top:761.7px;font-size:22px;transform:scaleX(1.1050);">based on historical videos and products.</div>
<div class="t" style="left:18.8px;top:798px;font-size:22px;font-weight:bold;transform:scaleX(1.0040);">Context:</div>
<div class="t" style="left:328.5px;top:792.5px;font-size:22px;transform:scaleX(0.7727);">…</div>
<div class="t" style="left:18.8px;top:836.5px;font-size:22px;font-weight:bold;transform:scaleX(0.9979);">Target:</div>
<div class="t" style="left:35px;top:910.8px;font-size:21px;font-weight:bold;color:#8c8c8c;transform:scaleX(1.0968);">Label Prediction</div>
<div class="t" style="left:18.8px;top:951.6px;font-size:22px;font-weight:bold;transform:scaleX(1.0267);">Instruction :</div>
<div class="t" style="left:146px;top:951.6px;font-size:22px;transform:scaleX(1.1062);">Predict whether</div>
<div class="t" style="left:426.7px;top:951.6px;font-size:22px;transform:scaleX(1.0562);">will be</div>
<div class="t" style="left:18.6px;top:976.7px;font-size:22px;transform:scaleX(1.1016);">watched based on historical watched videos.</div>
<div class="t" style="left:18.8px;top:1012px;font-size:22px;font-weight:bold;transform:scaleX(1.0040);">Context:</div>
<div class="t" style="left:328.5px;top:1006.5px;font-size:22px;transform:scaleX(0.8409);">…</div>
<div class="t" style="left:18.8px;top:1051.5px;font-size:22px;font-weight:bold;transform:scaleX(0.9979);">Target:</div>
<div class="t" style="left:93.5px;top:1051.5px;font-size:22px;transform:scaleX(1.1701);">yes / no</div>
<div class="t" style="left:597px;top:61px;font-size:21px;font-weight:bold;color:#8c8c8c;transform:scaleX(1.1036);">Label-Conditional</div>
<div class="t" style="left:578.5px;top:99px;font-size:22px;font-weight:bold;transform:scaleX(1.0226);">Instruction:</div>
<div class="t" style="left:699.3px;top:99px;font-size:22px;transform:scaleX(1.1318);">Predict next videos to be liked / shared /</div>
<div class="t" style="left:578.5px;top:123.6px;font-size:22px;transform:scaleX(1.0962);">collected based on historical interacted videos.</div>
<div class="t" style="left:578.5px;top:156px;font-size:22px;font-weight:bold;transform:scaleX(1.0186);">Context:</div>
<div class="t" style="left:667.8px;top:156px;font-size:22px;transform:scaleX(1.0606);">She liked</div>
<div class="t" style="left:871.5px;top:156px;font-size:22px;transform:scaleX(1.0961);">, shared</div>
<div class="t" style="left:1063.3px;top:156px;font-size:22px;transform:scaleX(1.1239);">and</div>
<div class="t" style="left:578.5px;top:190.7px;font-size:22px;transform:scaleX(1.0679);">collected</div>
<div class="t" style="left:780px;top:190.7px;font-size:22px;">.</div>
<div class="t" style="left:578.5px;top:229px;font-size:22px;font-weight:bold;transform:scaleX(0.9979);">Target:</div>
<div class="t" style="left:596px;top:295.2px;font-size:21px;font-weight:bold;color:#8c8c8c;transform:scaleX(1.0787);">Interactive Rec</div>
<div class="t" style="left:578.5px;top:331.5px;font-size:22px;font-weight:bold;transform:scaleX(1.0226);">Instruction:</div>
<div class="t" style="left:699.3px;top:331.5px;font-size:22px;transform:scaleX(1.0926);">Recommend foods videos.</div>
<div class="t" style="left:578.5px;top:366.3px;font-size:22px;font-weight:bold;transform:scaleX(1.0064);">Context:</div>
<div class="t" style="left:692px;top:394px;font-size:17px;transform:scaleX(1.0844);">This is a 20-year-old female user. She follows music</div>
<div class="t" style="left:692px;top:425px;font-size:17px;transform:scaleX(1.1058);">and food bloggers. Gaming videos are her absolute</div>
<div class="t" style="left:692px;top:454.7px;font-size:17px;transform:scaleX(1.0951);">favorite… Her recent activity includes clicking</div>
<div class="t" style="left:692px;top:485.5px;font-size:17px;transform:scaleX(1.1471);">on</div>
<div class="t" style="left:826.8px;top:485.5px;font-size:17px;transform:scaleX(1.1092);">, engaging with</div>
<div class="t" style="left:692px;top:517.8px;font-size:17px;transform:scaleX(1.1147);">through views and likes, and making a purchase of</div>
<div class="t" style="left:799.4px;top:552.0px;font-size:17px;">.</div>
<div class="t" style="left:578.5px;top:604.8px;font-size:22px;font-weight:bold;transform:scaleX(0.9979);">Target:</div>
<div class="t" style="left:596px;top:720px;font-size:21px;font-weight:bold;color:#8c8c8c;transform:scaleX(1.0791);">Rec. Explanation</div>
<div class="t" style="left:578.5px;top:758.7px;font-size:22px;font-weight:bold;transform:scaleX(1.0226);">Instruction:</div>
<div class="t" style="left:699.3px;top:758.7px;font-size:22px;transform:scaleX(1.0956);">Why is the video “Blizzard in Altay”</div>
<div class="t" style="left:578.5px;top:783.6px;font-size:22px;transform:scaleX(1.1090);">recommended to this user?</div>
<div class="t" style="left:578.5px;top:819.3px;font-size:22px;font-weight:bold;transform:scaleX(1.0064);">Context:</div>
<div class="t" style="left:692px;top:854.2px;font-size:17px;transform:scaleX(1.0844);">This is a 20-year-old female user. She follows music</div>
<div class="t" style="left:692px;top:885.9px;font-size:17px;transform:scaleX(1.1058);">and food bloggers. Gaming videos are her absolute</div>
<div class="t" style="left:692px;top:914.8px;font-size:17px;transform:scaleX(1.0951);">favorite… Her recent activity includes clicking</div>
<div class="t" style="left:692px;top:946.8px;font-size:17px;transform:scaleX(1.1471);">on</div>
<div class="t" style="left:826.8px;top:946.8px;font-size:17px;transform:scaleX(1.1092);">, engaging with</div>
<div class="t" style="left:692px;top:977.5px;font-size:17px;transform:scaleX(1.1147);">through views and likes, and making a purchase of</div>
<div class="t" style="left:799.4px;top:1012.5px;font-size:17px;">.</div>
<div class="t" style="left:578.5px;top:1053.4px;font-size:22px;font-weight:bold;transform:scaleX(0.9979);">Target:</div>
<div class="t" style="left:654.4px;top:1053.4px;font-size:22px;transform:scaleX(1.0904);">Given her recent warm clothing purchase …</div>
</body></html>
